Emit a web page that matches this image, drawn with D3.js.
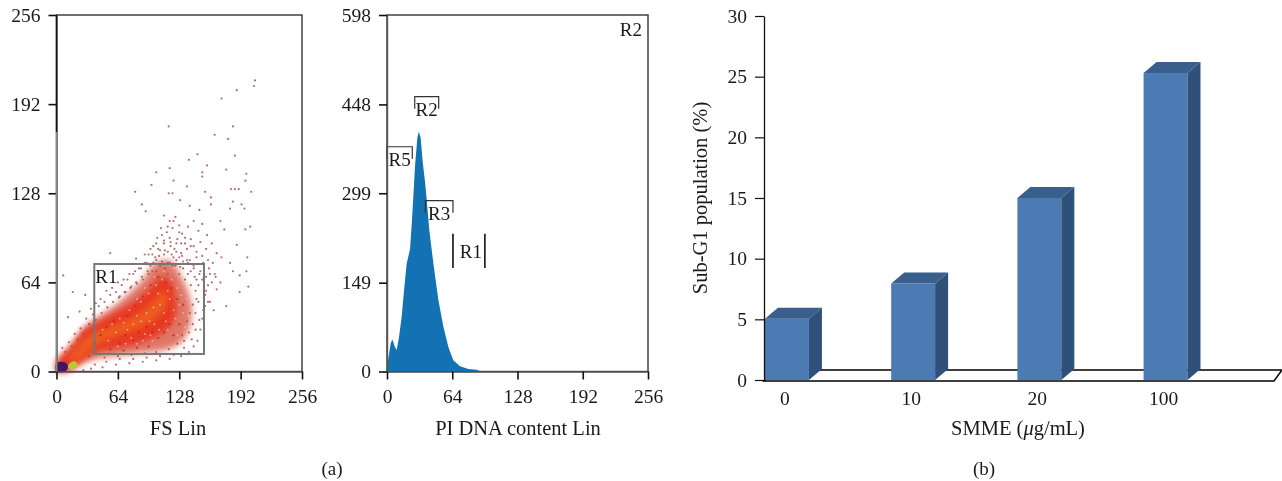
<!DOCTYPE html>
<html>
<head>
<meta charset="utf-8">
<script src="https://cdn.jsdelivr.net/npm/d3@7"></script>
<style>
  html, body { margin: 0; background: #fff; overflow: hidden; }
  text { font-family: "Liberation Serif", serif; font-size: 19px; fill: #1a1a1a; }
  .tick text { font-family: "Liberation Serif", serif; font-size: 19.5px; fill: #1a1a1a; }
  .title { font-size: 20.5px; }
</style>
</head>
<body>
<svg id="chart" width="1282" height="481"></svg>
<script>
// panel a, left: FS / SS scatter, sparse events
const scatterTicks = [0, 64, 128, 192, 256];
const sparseEvents = [
  [207,209],[206,205],[188,202],[172,196],[117,176],[184,176],[165,170],[179,167],[147,156],[186,155],
  [138,152],[157,148],[118,146],[177,145],[104,143],[198,142],[152,143],[197,137],[122,137],[152,140],
  [99,134],[136,133],[182,131],[186,131],[190,131],[203,129],[155,129],[117,128],[121,128],[82,129],
  [161,125],[129,123],[89,120],[184,122],[193,120],[161,120],[139,119],[93,115],[196,117],[181,117],
  [149,116],[171,108],[202,104],[197,102],[175,102],[188,91],[199,82],[181,78],[184,72],[198,72],
  [191,69],[167,59],[191,57],[200,61],[177,47],[164,44],[7,69],[17,57],[30,55],[24,43],[12,39],[56,85],[83,81],
  [112,112],[118,108],[124,111],[128,105],[109,103],[115,100],[121,103],[131,99],[137,104],[143,108],[148,101],
  [152,106],[157,98],[140,95],[134,92],[126,95],[119,93],[112,94],[105,96],[101,90],[108,87],[116,86],[123,88],
  [130,85],[136,88],[143,90],[150,93],[156,88],[162,92],[167,85],[172,82],[163,78],[158,80],[152,83],[146,82],
  [139,80],[132,79],[125,80],[118,78],[110,79],[103,82],[96,84],[92,78],[98,76],[88,74],[82,72],[76,70],[70,66],
  [64,64],[58,60],[52,58],[46,52],[41,49],[36,45],[160,70],[166,68],[171,64],[158,62],[155,55],[160,50],[150,72],
  [146,66],[153,44],[149,37],[145,30],[141,23],[133,17],[122,12],[108,11],[94,10],[80,9],[66,9],[52,7],[40,5],
  [143,74],[137,70],[129,75],[121,76],[113,74],[104,72],[96,70],[90,66],[84,63],[78,61],[72,57],[66,54],
  [146,52],[142,48],[139,42],[136,36],[131,26],[126,20],[117,16],[104,14],[92,13],[78,12],[64,11],[50,10],[34,11],
  [6,17],[9,14],[13,21],[16,18],[19,27],[22,23],[25,31],[28,27],[31,38],[34,34],[38,41],[41,37],[44,47],[47,42],
  [50,50],[53,46],[56,55],[59,50],[62,57],[65,53],[68,62],[71,57],[74,66],[77,60],[80,70],[83,64],[86,74],[89,68],
  [92,84],[95,72],[98,88],[101,78],[104,92],[107,83],[110,98],[113,87],[116,104],[119,90],[122,108],[125,86],
  [128,100],[131,83],[134,96],[137,78],[140,90],[143,76],[146,86],[149,70],[153,78],[156,68],[159,74],[162,64],[165,70],
  [100,72],[104,80],[108,76],[112,84],[116,78],[120,84],[124,76],[128,82],[132,74],[136,80],[140,72],[144,68],
  [148,62],[152,66],[156,58],[158,50],[155,47],[152,38],[150,30],[147,22],[143,18],[138,14],[130,11],[118,9],
  [104,8],[90,7],[76,6],[62,5],[48,3],[36,2],[28,1],[112,92],[118,96],[125,92],[130,92],[106,88],[100,84],[94,78],
  [122,82],[116,70],[128,70],[134,66],[140,62],[145,58],[148,50],[145,42],[142,34],[138,28],[133,22]
];
// density bands of the cloud, outlines
const outerBand = [[0,8],[10,15],[20,22],[30,32],[45,40],[60,47],[75,56],[90,66],[100,76],[112,80],[122,78],[130,68],[137,58],[141,46],[138,30],[128,20],[110,15],[85,13],[60,11],[40,9],[22,4],[12,0],[0,0]];
const coreBand = [[1,6],[14,17],[28,30],[45,36],[60,42],[78,49],[95,58],[108,68],[118,66],[124,54],[125,42],[118,32],[106,26],[90,21],[65,17],[42,14],[25,7],[14,2],[1,1]];
const warmBand = [[12,8],[22,18],[34,26],[50,31],[66,35],[84,41],[100,50],[112,58],[116,50],[104,38],[86,31],[66,26],[48,21],[34,15],[22,8]];
const yellowBand = [[12,4],[16,7],[20,7],[22,4],[17,2],[13,2]];
const purpleBand = [[0,0],[0,6],[5,7],[10,6],[12,3],[9,0]];
const paleSpecks = [
  [62,28],[70,35],[78,24],[84,40],[92,27],[97,36],[101,46],[107,30],[112,42],[118,52],[124,38],[128,48],[116,30],
  [88,50],[76,44],[66,38],[104,62],[110,66],[120,66],[96,56],[130,55],[134,32],[126,26],[54,22],[48,30],[100,22],[84,20],
  [74,30],[80,34],[88,36],[94,42],[102,34],[108,48],[114,36],[122,44],[116,58],[126,60],[132,42],[138,40],[136,52],
  [98,26],[90,22],[72,20],[64,18],[58,34],[106,56],[112,72],[122,74],[102,68],[92,60],[84,52],[140,34],[130,20]
];
const darkSpecks = [
  [66,20],[72,26],[80,22],[86,28],[94,32],[100,28],[106,24],[112,28],[118,34],[122,26],[128,34],[132,48],[126,52],
  [120,60],[114,64],[106,68],[98,62],[90,54],[82,47],[74,40],[60,36],[52,32],[46,26],[40,20],[56,16],[70,15],[84,17],[96,18]
];
const r1Gate = { name: "R1", x: [39.4, 153.8], y: [12.6, 77.2] };

// panel a, right: PI histogram
const histTicksY = [0, 149, 299, 448, 598];
const histTicksX = [0, 64, 128, 192, 256];
const histChannels = [0,0.3,1.3,3.6,5.2,7.8,9.5,11.8,14.4,16.7,19.3,22.6,24.5,25.8,27.5,29.8,31.1,33,35,37.3,39,41.5,45.5,50.4,55.3,60.2,65,71.6,79.8,88,91];
const histCounts = [0,2,22,47,54,41,36,58,92,136,181,205,254,293,345,392,402,392,352,318,287,237,181,120,75,41,19,9,4,3,1];
const histGates = [
  { name: "R5", lo: 0, hi: 24.8, count: 377 },
  { name: "R2", lo: 27.2, hi: 50.7, count: 461 },
  { name: "R3", lo: 37.6, hi: 64.7, count: 286.5 }
];
const histMarker = { name: "R1", lo: 64.7, hi: 96, top: 231, bottom: 173.5 };

// panel b: sub-G1 bars
const doses = ["0", "10", "20", "100"];
const subG1 = [5.05, 7.95, 15, 25.3];
const subG1Ticks = [0, 5, 10, 15, 20, 25, 30];

const svg = d3.select("#chart");
const defs = svg.append("defs");
defs.append("filter").attr("id", "soft").append("feGaussianBlur").attr("stdDeviation", 3);
defs.append("filter").attr("id", "dot").append("feGaussianBlur").attr("stdDeviation", 0.45);

const TOP = 15, BOTTOM = 371.5;

function flowAxes(g, x, y, xTicks, yTicks) {
  g.append("g")
    .attr("transform", `translate(0, ${BOTTOM})`)
    .call(d3.axisBottom(x).tickValues(xTicks).tickSize(8).tickPadding(10).tickSizeOuter(0));
  g.append("g")
    .attr("transform", `translate(${x.range()[0]}, 0)`)
    .call(d3.axisLeft(y).tickValues(yTicks).tickSize(8).tickPadding(8).tickSizeOuter(0));
  g.selectAll(".domain").attr("stroke", "#555").attr("stroke-width", 1.4);
  g.selectAll(".tick line").attr("stroke", "#111").attr("stroke-width", 1.6);
}

// scatter
const xFs = d3.scaleLinear().domain([0, 256]).range([56.5, 302]);
const ySs = d3.scaleLinear().domain([0, 256]).range([BOTTOM, TOP]);
const area = d3.line().x(d => xFs(d[0])).y(d => ySs(d[1])).curve(d3.curveCatmullRomClosed);

svg.append("rect")
  .attr("x", xFs(0)).attr("y", ySs(256))
  .attr("width", xFs(256) - xFs(0)).attr("height", ySs(0) - ySs(256))
  .attr("fill", "none").attr("stroke", "#333").attr("stroke-width", 1.4);

const bands = [
  [outerBand, "#d2402a", 0.7],
  [coreBand, "#e8321a", 0.9],
  [warmBand, "#f06a1e", 0.7],
  [yellowBand, "#b9c832", 1],
  [purpleBand, "#3f1268", 1]
];
const bandLayer = svg.append("g");
bands.forEach(([pts, colour, alpha], i) => {
  bandLayer.append("path")
    .attr("d", area(pts))
    .attr("fill", colour).attr("opacity", alpha)
    .attr("filter", i > 2 ? "url(#dot)" : "url(#soft)");
});

const specks = (rows, colour, r, alpha) => svg.append("g").attr("filter", "url(#dot)")
  .selectAll("circle").data(rows).join("circle")
  .attr("cx", d => xFs(d[0])).attr("cy", d => ySs(d[1]))
  .attr("r", r).attr("fill", colour).attr("opacity", alpha);
specks(sparseEvents, "#a04a4c", 1.1, 0.8);
specks(darkSpecks, "#b52a1c", 1.2, 0.7);
specks(paleSpecks, "#f8b79c", 1, 0.8);

svg.append("rect")
  .attr("x", xFs(r1Gate.x[0])).attr("y", ySs(r1Gate.y[1]))
  .attr("width", xFs(r1Gate.x[1]) - xFs(r1Gate.x[0]))
  .attr("height", ySs(r1Gate.y[0]) - ySs(r1Gate.y[1]))
  .attr("fill", "none").attr("stroke", "#777").attr("stroke-width", 2);
svg.append("text").attr("x", xFs(r1Gate.x[0]) + 1).attr("y", ySs(r1Gate.y[1]) + 19).text(r1Gate.name);
flowAxes(svg.append("g"), xFs, ySs, scatterTicks, scatterTicks);
// upper part of the left edge prints darker than the rest
svg.append("line")
  .attr("x1", xFs(0)).attr("x2", xFs(0)).attr("y1", ySs(256)).attr("y2", ySs(172))
  .attr("stroke", "#111").attr("stroke-width", 1.4);
svg.append("line")
  .attr("x1", xFs(0)).attr("x2", xFs(0)).attr("y1", ySs(172)).attr("y2", ySs(0))
  .attr("stroke", "#888").attr("stroke-width", 1.4);
svg.append("text").attr("class", "title").attr("x", 178).attr("y", 435).attr("text-anchor", "middle").text("FS Lin");

// histogram
const xPi = d3.scaleLinear().domain([0, 256]).range([387, 648]);
const yCount = d3.scaleLinear().domain([0, 598]).range([BOTTOM, TOP]);
const hist = svg.append("g");
hist.append("rect")
  .attr("x", xPi(0)).attr("y", yCount(598))
  .attr("width", xPi(256) - xPi(0)).attr("height", yCount(0) - yCount(598))
  .attr("fill", "none").attr("stroke", "#333").attr("stroke-width", 1.4);
hist.append("path")
  .datum(d3.zip(histChannels, histCounts))
  .attr("d", d3.area().x(d => xPi(d[0])).y0(yCount(0)).y1(d => yCount(d[1])))
  .attr("fill", "#1272b4");
hist.selectAll(".gate").data(histGates).join("path")
  .attr("class", "gate")
  .attr("d", d => `M${xPi(d.lo)},${yCount(d.count) + 12}V${yCount(d.count)}H${xPi(d.hi)}V${yCount(d.count) + 12}`)
  .attr("fill", "none").attr("stroke", "#333").attr("stroke-width", 1.2);
hist.selectAll(".gate-label").data(histGates).join("text")
  .attr("class", "gate-label")
  .attr("x", d => (xPi(d.lo) + xPi(d.hi)) / 2)
  .attr("y", d => yCount(d.count) + 19)
  .attr("text-anchor", "middle").text(d => d.name);
[histMarker.lo, histMarker.hi].forEach(v => {
  hist.append("line")
    .attr("x1", xPi(v)).attr("x2", xPi(v))
    .attr("y1", yCount(histMarker.top)).attr("y2", yCount(histMarker.bottom))
    .attr("stroke", "#111").attr("stroke-width", 1.6);
});
hist.append("text")
  .attr("x", (xPi(histMarker.lo) + xPi(histMarker.hi)) / 2 + 2)
  .attr("y", yCount(histMarker.top) + 24)
  .attr("text-anchor", "middle").text(histMarker.name);
hist.append("text").attr("x", 642).attr("y", 36).attr("text-anchor", "end").text("R2");
flowAxes(svg.append("g"), xPi, yCount, histTicksX, histTicksY);
svg.append("text").attr("class", "title").attr("x", 518).attr("y", 435).attr("text-anchor", "middle").text("PI DNA content Lin");
svg.append("text").attr("x", 332).attr("y", 475).attr("text-anchor", "middle").text("(a)");

// bars
const DEPTH_X = 13, DEPTH_Y = 11;
const xDose = d3.scaleBand().domain(doses).range([765, 1187.5]).paddingInner(0.652).paddingOuter(0);
const yPct = d3.scaleLinear().domain([0, 30]).range([380, 16]);
const bars = svg.append("g");

bars.append("path")
  .attr("d", `M${xDose.range()[0] - 1},${yPct(0) + 1}L${xDose.range()[0] - 1 + DEPTH_X},${yPct(0) - 10}H1282L1274,${yPct(0) + 1}Z`)
  .attr("fill", "#fff").attr("stroke", "#000").attr("stroke-width", 1.4);

const bar = bars.selectAll(".bar").data(d3.zip(doses, subG1)).join("g").attr("class", "bar");
bar.append("rect")
  .attr("x", d => xDose(d[0])).attr("y", d => yPct(d[1]))
  .attr("width", xDose.bandwidth()).attr("height", d => yPct(0) - yPct(d[1]))
  .attr("fill", "#4c7ab3");
bar.append("path")
  .attr("d", d => {
    const x = xDose(d[0]), w = xDose.bandwidth(), t = yPct(d[1]);
    return `M${x},${t}l${DEPTH_X},${-DEPTH_Y}h${w}l${-DEPTH_X},${DEPTH_Y}Z`;
  })
  .attr("fill", "#3a5f8d");
bar.append("path")
  .attr("d", d => {
    const x = xDose(d[0]) + xDose.bandwidth(), t = yPct(d[1]), b = yPct(0);
    return `M${x},${t}l${DEPTH_X},${-DEPTH_Y}V${b - DEPTH_Y}l${-DEPTH_X},${DEPTH_Y}Z`;
  })
  .attr("fill", "#2f5078");

const yAxisPct = svg.append("g")
  .attr("transform", "translate(764, 0)")
  .call(d3.axisLeft(yPct).tickValues(subG1Ticks).tickSize(9).tickPadding(8).tickSizeOuter(0));
yAxisPct.selectAll(".domain").attr("stroke", "#111").attr("stroke-width", 1.3);
yAxisPct.selectAll(".tick line").attr("stroke", "#111").attr("stroke-width", 1.2);

const xAxisDose = svg.append("g")
  .attr("transform", `translate(-2, ${yPct(0)})`)
  .call(d3.axisBottom(xDose).tickSize(0).tickPadding(11));
xAxisDose.select(".domain").remove();

svg.append("text").attr("class", "title")
  .attr("transform", "translate(707, 198) rotate(-90)")
  .attr("text-anchor", "middle").text("Sub-G1 population (%)");
const doseTitle = svg.append("text").attr("class", "title").attr("x", 1018).attr("y", 435).attr("text-anchor", "middle");
doseTitle.append("tspan").text("SMME (");
doseTitle.append("tspan").attr("font-style", "italic").text("μ");
doseTitle.append("tspan").text("g/mL)");
svg.append("text").attr("x", 984).attr("y", 475).attr("text-anchor", "middle").text("(b)");
</script>
</body>
</html>
